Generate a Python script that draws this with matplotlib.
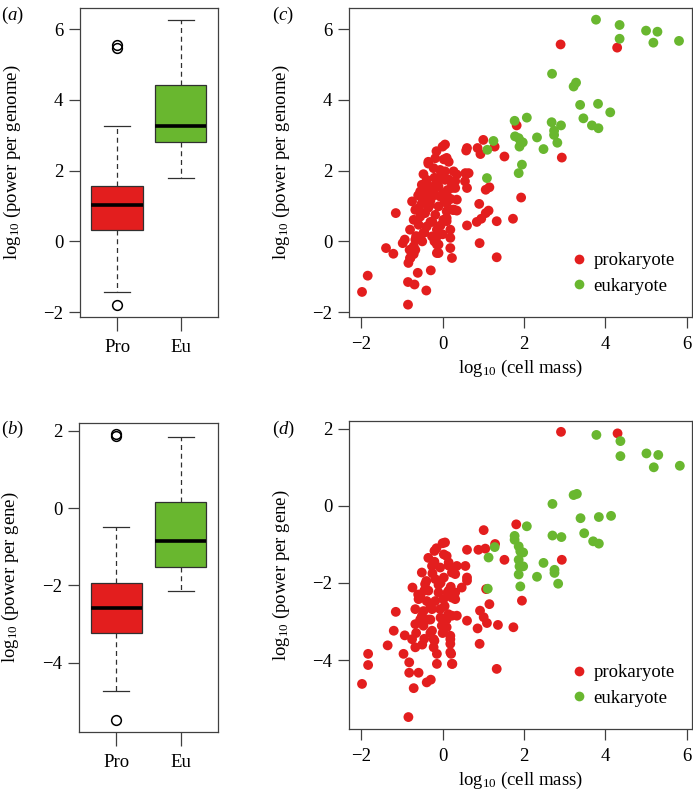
import matplotlib
matplotlib.use('Agg')
import matplotlib.pyplot as plt
from matplotlib.lines import Line2D

plt.rcParams['font.family'] = ['Liberation Serif', 'DejaVu Serif']
plt.rcParams['font.size'] = 13.5
plt.rcParams['mathtext.fontset'] = 'custom'
plt.rcParams['mathtext.rm'] = 'Liberation Serif'
plt.rcParams['mathtext.it'] = 'Liberation Serif:italic'
plt.rcParams['axes.edgecolor'] = '#404040'
plt.rcParams['axes.linewidth'] = 0.9

groups = ['Pro', 'Eu']
genome_med = [1.03, 3.26]
genome_q1 = [0.31, 2.82]
genome_q3 = [1.57, 4.41]
genome_lo = [-1.43, 1.78]
genome_hi = [3.26, 6.25]
genome_fliers = [[5.47, 5.56, -1.80], []]

gene_med = [-2.58, -0.85]
gene_q1 = [-3.22, -1.52]
gene_q3 = [-1.95, 0.16]
gene_lo = [-4.74, -2.14]
gene_hi = [-0.48, 1.83]
gene_fliers = [[1.87, 1.91, -5.49], []]

# ---- panel c: log10 cell mass vs log10 power per genome
pro_mass_c = [2.90, 4.29, 1.82, 2.93, 1.93, 1.73, 1.33, 1.33, 0.91, 1.00, 0.60, 0.58,
              0.86, 0.93, 1.28, 1.52, 0.90, 1.06, 1.15, 1.13, 1.06, 0.95, 0.84, 0.60,
              -1.98, -1.84, -1.39, -1.21, -1.15, -0.98, -0.93, -0.85, -0.85, -0.69, -0.61,
              -0.40, -0.29, -0.79, -0.71, -0.67, -0.81, -0.10, -0.14, -0.16,
              0.00, -0.18, 0.03, -0.22, -0.06, -0.39, -0.51, -0.31, -0.14, 0.06, 0.23,
              -0.55, -0.39, -0.18, 0.02, -0.75, -0.51, -0.31, -0.10, 0.10, 0.27, -0.67,
              -0.43, -0.18, 0.02, -0.71, -0.59, -0.39, -0.14, -0.80, -0.47, -0.26, -0.67,
              -0.10, -0.71, -0.14, -0.80, -0.84, 0.19, 0.19, 0.19, 0.23, 0.10, -0.26,
              -0.06, -0.45,
              0.06, 0.10, 0.06, 0.27, 0.35, 0.56, 0.15, 0.31, 0.55, 0.60, 0.23, 0.10,
              0.27, 0.35, 0.10, 0.64, 0.25, 0.31, 0.35, -0.35, -0.47, -0.58, -0.25,
              -0.45, -0.35, -0.25, -0.05, 0.12, -0.55, -0.30, -0.05, 0.05, -0.20, -0.45, -0.60,
              -0.15, 0.15, -0.35, -0.50, -0.20, 0.10, -0.65, -0.40, 0.00, -0.10, 0.20, -0.30]
pro_genome_c = [5.57, 5.48, 3.28, 2.37, 1.24, 0.64, -0.45, 0.57, -0.05, 2.87, 2.64, 2.57,
                2.64, 2.47, 2.68, 2.40, 1.06, 1.46, 1.53, 0.87, 0.80, 0.64, 0.55, 0.45,
                -1.43, -0.97, -0.19, -0.35, 0.80, -0.05, 0.05, -1.79, -1.15, -1.22, -0.89,
                -1.39, -0.82, -0.47, -0.36, -0.24, -0.24, -0.33, -0.09, 0.09,
                2.68, 2.35, 2.32, 2.07, 2.02, 1.74, 1.60, 1.55, 1.65, 1.74, 1.60,
                1.41, 1.36, 1.32, 1.36, 1.13, 1.08, 1.03, 0.99, 1.08, 0.89, 0.89,
                0.80, 0.75, 0.61, 0.61, 0.47, 0.42, 0.33, 0.33, 0.24, 0.14, 0.05,
                -0.09, -0.14, -0.33, -0.47, -0.61, 0.33, 0.10, -0.19, -0.47, 0.66, 1.27,
                1.27, 1.50,
                2.74, 2.36, 1.98, 1.98, 1.89, 1.93, 1.75, 1.70, 1.70, 1.51, 1.51, 1.32,
                0.90, 0.87, 0.57, 1.93, 0.89, 1.51, 1.18, 2.20, 1.90, 0.95, 0.55,
                1.20, 0.95, 1.45, 1.85, 1.45, 0.70, 0.55, 0.45, 1.15, 1.80, 0.25, 1.30,
                2.55, 2.25, 2.25, 0.00, 0.00, 0.85, 0.15, 1.60, 0.20, 1.55, 1.20, 1.15]
eu_mass_c = [3.77, 4.35, 4.35, 5.00, 5.28, 5.18, 5.81, 2.69, 3.22, 3.28, 3.38, 3.82,
             4.12, 3.46, 3.67, 3.83, 2.07, 1.77, 2.68, 2.91, 2.74, 2.74, 2.82, 2.32,
             1.78, 1.87, 1.92, 1.97, 1.89, 2.48, 1.25, 1.10, 1.95, 1.87, 1.09]
eu_genome_c = [6.27, 6.12, 5.73, 5.96, 5.93, 5.62, 5.67, 4.74, 4.38, 4.49, 3.86, 3.89,
               3.65, 3.48, 3.28, 3.20, 3.50, 3.41, 3.37, 3.28, 3.13, 3.01, 2.79, 2.94,
               2.97, 2.92, 2.82, 2.80, 2.68, 2.61, 2.84, 2.59, 2.17, 1.93, 1.79]

# ---- panel d: log10 cell mass vs log10 power per gene
pro_mass_d = [2.91, 4.30, 1.81, 2.93, 1.95, 1.74, 1.33, 1.36, 0.91, 1.01, 1.29, 1.52,
              0.92, 0.88, 1.05, 0.60, 0.60, 1.07, 1.15, 1.01, 1.09, 0.86,
              0.00, -0.20, 0.03, -0.26, -0.06, -0.51, -0.74, -0.43, -0.18, 0.03, 0.23,
              -0.59, -0.39, -0.18, 0.02, 0.23, -0.67, -0.47, -0.26, -0.06, 0.14, -1.15,
              -0.67, -0.47, -0.26, -0.02, -1.20, -0.93, -0.75, -1.35, -0.67, -0.22, 0.19,
              0.19, -0.14, -0.96, -1.83, -1.83, -1.98, -0.82, -0.82, -0.59, -0.71, -0.39,
              -0.29, -0.14, -0.84, 0.23, -0.22, -0.51,
              0.06, 0.10, 0.15, 0.35, 0.56, 0.60, 0.31, 0.60, 0.47, 0.31, 0.15, 0.31,
              0.23, 0.35, 0.10, 0.19, 0.19, 0.21, 0.24, -0.35, -0.55, -0.30, -0.10,
              -0.45, -0.35, -0.25, -0.05, 0.12, -0.55, -0.30, -0.05, 0.05, -0.20, -0.45, -0.60,
              -0.15, 0.15, -0.35, -0.50, -0.20, 0.10, -0.65, -0.40, 0.00, -0.10, 0.20, -0.30]
pro_gene_d = [1.92, 1.88, -0.48, -1.40, -2.46, -3.15, -4.23, -3.09, -3.58, -0.63, -0.99, -1.40,
              -2.72, -1.14, -1.11, -1.14, -2.98, -2.16, -2.55, -2.89, -3.04, -3.18,
              -0.97, -1.17, -1.26, -1.56, -1.60, -1.73, -2.12, -2.03, -1.90, -1.86, -1.73,
              -2.42, -2.47, -2.47, -2.42, -2.38, -2.68, -2.73, -2.68, -2.68, -2.81, -2.75,
              -3.07, -3.11, -3.24, -3.11, -3.24, -3.36, -3.46, -3.62, -3.67, -3.67, -3.46,
              -3.80, -3.84, -3.84, -3.84, -4.13, -4.62, -4.06, -4.33, -4.33, -4.73, -4.58,
              -4.51, -4.10, -5.48, -4.10, -3.46, -2.86,
              -0.95, -1.30, -1.47, -1.56, -1.56, -1.86, -1.77, -1.94, -2.12, -2.25, -2.20, -2.42,
              -2.85, -2.85, -3.15, -3.37, -3.58, -3.84, -4.10, -2.20, -2.35, -2.95, -2.05,
              -2.20, -2.95, -1.75, -2.00, -2.25, -2.95, -3.30, -2.90, -2.60, -1.45, -3.45, -2.30,
              -1.10, -1.55, -1.35, -3.60, -3.50, -2.95, -3.30, -1.95, -3.30, -2.25, -2.10, -2.60]
eu_mass_d = [3.78, 4.37, 4.37, 5.01, 5.30, 5.19, 5.83, 2.70, 3.22, 3.30, 3.39, 3.84,
             4.14, 3.48, 3.70, 3.84, 2.07, 1.77, 1.77, 2.70, 2.92, 2.75, 2.75, 2.84,
             2.32, 2.48, 1.87, 1.91, 1.98, 1.87, 1.89, 1.98, 1.87, 1.91, 1.28, 1.13, 1.11]
eu_gene_d = [1.84, 1.68, 1.29, 1.36, 1.32, 1.00, 1.04, 0.05, 0.28, 0.31, -0.32, -0.29,
             -0.26, -0.71, -0.92, -0.98, -0.53, -0.78, -0.88, -0.77, -0.81, -1.66, -1.74, -2.02,
             -1.84, -1.48, -1.05, -1.18, -1.21, -1.40, -1.57, -1.57, -1.78, -2.09, -1.07, -1.34, -2.15]

red = '#E31E1E'
green = '#69B72F'
dark = '#404040'


def box_panel(ax, med, q1, q3, lo, hi, fliers, ylim, yticks, ylabel):
    stats = []
    for i in range(len(groups)):
        stats.append(dict(med=med[i], q1=q1[i], q3=q3[i], whislo=lo[i], whishi=hi[i],
                          fliers=fliers[i], label=groups[i]))
    bp = ax.bxp(stats, positions=[1, 2], widths=0.8, capwidths=0.4, patch_artist=True,
                boxprops=dict(linewidth=0.9, edgecolor='#303030'),
                medianprops=dict(color='black', linewidth=2.6, solid_capstyle='butt'),
                whiskerprops=dict(linestyle=(0, (4, 3)), linewidth=0.9, color='#303030'),
                capprops=dict(linewidth=0.9, color='#303030'),
                flierprops=dict(marker='o', markerfacecolor='none', markeredgecolor='black',
                                markersize=7, markeredgewidth=1.1))
    for patch, col in zip(bp['boxes'], [red, green]):
        patch.set_facecolor(col)
    ax.set_xlim(0.42, 2.58)
    ax.set_ylim(*ylim)
    ax.set_yticks(yticks)
    ax.tick_params(axis='y', direction='out', length=8, width=0.9, pad=4, color=dark)
    ax.tick_params(axis='x', direction='out', length=10, width=0.9, pad=6, color=dark)
    ax.set_ylabel(ylabel)
    ax.yaxis.set_label_coords(-0.415, 0.5)


def scatter_panel(ax, px, py, ex, ey, ylim, yticks, ylabel):
    ax.scatter(px, py, s=50, color=red, edgecolors='none', zorder=3)
    ax.scatter(ex, ey, s=50, color=green, edgecolors='none', zorder=3)
    ax.set_xlim(-2.3, 6.13)
    ax.set_ylim(*ylim)
    ax.set_xticks([-2, 0, 2, 4, 6])
    ax.set_yticks(yticks)
    ax.tick_params(direction='out', length=8, width=0.9, color=dark)
    ax.tick_params(axis='y', pad=4)
    ax.tick_params(axis='x', pad=6)
    ax.set_ylabel(ylabel)
    ax.yaxis.set_label_coords(-0.165, 0.5)
    ax.set_xlabel(r'$\mathrm{log}_{10}$ (cell mass)', va='top')
    ax.xaxis.set_label_coords(0.5, -0.133)
    handles = [Line2D([], [], linestyle='none', marker='o', markersize=7, color=red, markeredgewidth=0),
               Line2D([], [], linestyle='none', marker='o', markersize=7, color=green, markeredgewidth=0)]
    ax.legend(handles, ['prokaryote', 'eukaryote'], loc='lower right', frameon=False,
              bbox_to_anchor=(0.988, 0.03), handletextpad=0.2, labelspacing=0.45,
              handlelength=1.2, borderaxespad=0.3)


fig = plt.figure(figsize=(6.93, 8.02), dpi=100)
ax_a = fig.add_axes([0.1154, 0.6047, 0.1991, 0.3853])
ax_b = fig.add_axes([0.1140, 0.0873, 0.2006, 0.3853])
ax_c = fig.add_axes([0.5036, 0.6047, 0.4950, 0.3853])
ax_d = fig.add_axes([0.5036, 0.0910, 0.4950, 0.3840])

box_panel(ax_a, genome_med, genome_q1, genome_q3, genome_lo, genome_hi, genome_fliers,
          (-2.14, 6.6), [-2, 0, 2, 4, 6], r'$\mathrm{log}_{10}$ (power per genome)')
box_panel(ax_b, gene_med, gene_q1, gene_q3, gene_lo, gene_hi, gene_fliers,
          (-5.79, 2.2), [-4, -2, 0, 2], r'$\mathrm{log}_{10}$ (power per gene)')
scatter_panel(ax_c, pro_mass_c, pro_genome_c, eu_mass_c, eu_genome_c,
              (-2.14, 6.6), [-2, 0, 2, 4, 6], r'$\mathrm{log}_{10}$ (power per genome)')
scatter_panel(ax_d, pro_mass_d, pro_gene_d, eu_mass_d, eu_gene_d,
              (-5.79, 2.2), [-4, -2, 0, 2], r'$\mathrm{log}_{10}$ (power per gene)')

fig.text(0.002, 0.981, r'($\mathit{a}$)', va='center', ha='left')
fig.text(0.002, 0.465, r'($\mathit{b}$)', va='center', ha='left')
fig.text(0.393, 0.981, r'($\mathit{c}$)', va='center', ha='left')
fig.text(0.393, 0.465, r'($\mathit{d}$)', va='center', ha='left')

fig.savefig('out.png', dpi=100)
